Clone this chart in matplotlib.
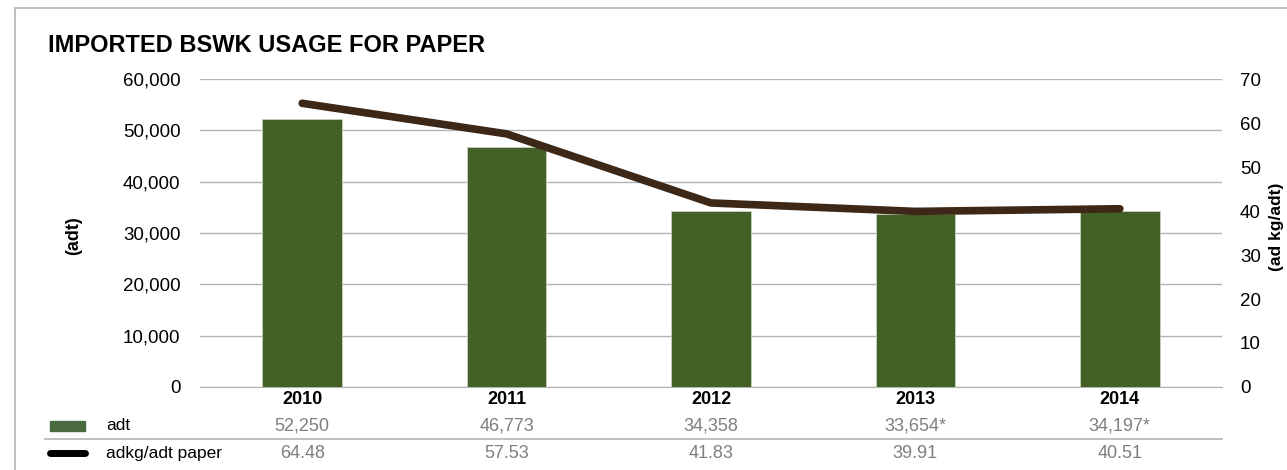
import matplotlib
matplotlib.use("Agg")
import matplotlib.pyplot as plt
import matplotlib.transforms as mtransforms
from matplotlib.lines import Line2D
from matplotlib.patches import Rectangle

plt.rcParams["font.family"] = ["Liberation Sans", "DejaVu Sans"]

years = ["2010", "2011", "2012", "2013", "2014"]
adt = [52250, 46773, 34358, 33654, 34197]
adt_labels = ["52,250", "46,773", "34,358", "33,654*", "34,197*"]
kg_per_adt = [64.48, 57.53, 41.83, 39.91, 40.51]
kg_labels = ["64.48", "57.53", "41.83", "39.91", "40.51"]

BAR_COLOR = "#436127"
LINE_COLOR = "#3d2716"
GRID_COLOR = "#b4b4b4"
VAL_COLOR = "#7f7f7f"

fig = plt.figure(figsize=(12.87, 4.70), dpi=100)
ax = fig.add_axes([0.1554, 0.1766, 0.7941, 0.6553])
ax2 = ax.twinx()

x = list(range(len(years)))
ax.bar(x, adt, width=0.39, color=BAR_COLOR, edgecolor="#c8d0bf", linewidth=0.6, zorder=3)
ax.set_xlim(-0.5, 4.5)
ax.set_ylim(0, 60000)
ax.set_yticks(range(0, 60001, 10000))
ax.set_yticklabels([f"{v:,}" for v in range(0, 60001, 10000)])
ax.grid(axis="y", color=GRID_COLOR, linewidth=1.0, zorder=0)
ax.set_axisbelow(True)
ax.set_xticks([])
for s in ["top", "left", "right"]:
    ax.spines[s].set_visible(False)
ax.spines["bottom"].set_color(GRID_COLOR)
ax.tick_params(axis="y", length=0, pad=14, labelsize=13.5)
ax.set_ylabel("(adt)", fontsize=13, fontweight="bold")
ax.yaxis.set_label_coords(-0.115, 0.49)

ax2.plot(x, kg_per_adt, color=LINE_COLOR, linewidth=5.5, solid_capstyle="round",
         solid_joinstyle="round", zorder=4)
ax2.set_ylim(0, 70)
ax2.set_yticks(range(0, 71, 10))
for s in ["top", "left", "right", "bottom"]:
    ax2.spines[s].set_visible(False)
ax2.tick_params(axis="y", length=0, pad=13, labelsize=13.5)
ax2.set_ylabel("(ad kg/adt)", fontsize=12.5, fontweight="bold")
ax2.yaxis.set_label_coords(1.046, 0.52)

# data table under the chart
trans = mtransforms.blended_transform_factory(ax.transData, fig.transFigure)
for i in x:
    fig.text(i, 0.151, years[i], transform=trans, ha="center", va="center",
             fontsize=13, fontweight="bold")
    fig.text(i, 0.094, adt_labels[i], transform=trans, ha="center", va="center",
             fontsize=13, color=VAL_COLOR)
    fig.text(i, 0.036, kg_labels[i], transform=trans, ha="center", va="center",
             fontsize=13, color=VAL_COLOR)

fig.patches.append(Rectangle((50 / 1287, 1 - 431 / 470), 35 / 1287, 10 / 470,
                             transform=fig.transFigure, color="#4a6b41"))
fig.lines.append(Line2D([50 / 1287, 85 / 1287], [1 - 453 / 470] * 2, transform=fig.transFigure,
                        color="black", linewidth=5, solid_capstyle="round"))
fig.text(106 / 1287, 0.094, "adt", ha="left", va="center", fontsize=12.5)
fig.text(106 / 1287, 0.036, "adkg/adt paper", ha="left", va="center", fontsize=12.5)
fig.lines.append(Line2D([45 / 1287, 1222 / 1287], [1 - 439 / 470] * 2, transform=fig.transFigure,
                        color=GRID_COLOR, linewidth=1.2))

# frame
fig.lines.append(Line2D([15 / 1287, 15 / 1287], [0, 1 - 8 / 470], transform=fig.transFigure,
                        color="#b4b4b4", linewidth=1.2))
fig.lines.append(Line2D([15 / 1287, 1], [1 - 8 / 470] * 2, transform=fig.transFigure,
                        color="#b4b4b4", linewidth=1.2))

fig.text(48 / 1287, 1 - 45 / 470, "IMPORTED BSWK USAGE FOR PAPER", ha="left", va="center",
         fontsize=17, fontweight="bold")

fig.savefig("out.png", dpi=100)
